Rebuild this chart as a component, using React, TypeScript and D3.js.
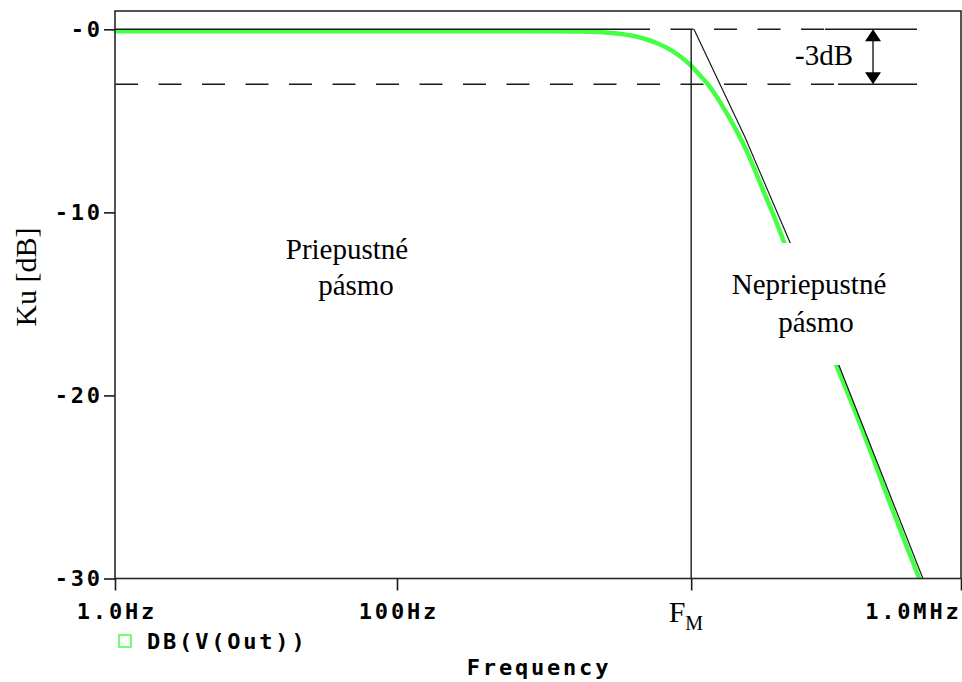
import React, { useEffect, useRef } from "react";
import * as d3 from "d3";

// gain curve of the filter
const freqHz = [1, 10, 100, 1000, 2000, 3000, 4000, 5000, 6000, 7000, 8000, 10000, 12000, 14000, 16000, 20000, 25000, 30000, 35000, 40000, 46000, 53000, 60000, 80000, 100000, 130000, 200000, 300000, 400000, 500000, 540000];
const gainDb = [-0.1, -0.1, -0.1, -0.1, -0.12, -0.17, -0.27, -0.4, -0.57, -0.76, -0.97, -1.43, -1.94, -2.49, -3.0, -4.1, -5.4, -6.6, -7.8, -8.9, -10.0, -11.2, -12.3, -14.4, -16.1, -18.3, -21.9, -25.5, -28.0, -29.9, -30.6];

// hand drawn asymptote (thin black line)
const asymFreq = [12770, 29400, 61300, 138700, 537000];
const asymDb = [0, -5.9, -11.65, -18.5, -30];

// axis ticks
const FM = 12200;
const xTickValues = [1, 100, FM, 1e6];
const xTickLabels = ["1.0Hz", "100Hz", "F", "1.0MHz"];
const yTickValues = [0, -10, -20, -30];
const yTickLabels = ["-0", "-10", "-20", "-30"];

const WIDTH = 962;
const HEIGHT = 682;
const PLOT = { left: 115, right: 961, top: 11, bottom: 578.5 };

const MONO = "'DejaVu Sans Mono', monospace";
const MONO_SIZE = 22;
const MONO_SPACING = 2.8;
const SERIF = "'Liberation Serif', 'Times New Roman', serif";
const GREEN = "#45ff45";
const INK = "#1a1a1a";

function monoText(sel: d3.Selection<any, any, any, any>) {
  return sel
    .attr("font-family", MONO)
    .attr("font-weight", "bold")
    .attr("font-size", MONO_SIZE)
    .attr("letter-spacing", MONO_SPACING)
    .attr("fill", "black");
}

function drawChart(node: SVGSVGElement) {
  const svg = d3.select(node);
  svg.selectAll("*").remove();

  const x = d3.scaleLog().domain([1, 1e6]).range([PLOT.left, PLOT.right]);
  const y = d3.scaleLinear().domain([-30, 1]).range([PLOT.bottom, PLOT.top]);

  svg.append("rect").attr("width", WIDTH).attr("height", HEIGHT).attr("fill", "white");

  svg.append("defs").append("clipPath").attr("id", "plot-clip")
    .append("rect")
    .attr("x", PLOT.left).attr("y", PLOT.top)
    .attr("width", PLOT.right - PLOT.left).attr("height", PLOT.bottom - PLOT.top);

  // 0 dB and -3 dB guide lines
  const guides = svg.append("g").attr("stroke", INK).attr("stroke-width", 1.4).attr("fill", "none");
  const hline = (f0: number, f1: number, db: number, dashed: boolean) => {
    guides.append("line")
      .attr("x1", x(f0)).attr("x2", x(f1))
      .attr("y1", y(db)).attr("y2", y(db))
      .attr("stroke-dasharray", dashed ? "23 20.5" : null);
  };
  hline(4280, 108400, 0, true);
  hline(108400, 487500, 0, false);
  hline(1, 134200, -3, true);
  hline(134200, 487500, -3, false);

  // vertical line at FM
  guides.append("line")
    .attr("x1", x(FM)).attr("x2", x(FM))
    .attr("y1", y(0)).attr("y2", PLOT.bottom);

  const plot = svg.append("g").attr("clip-path", "url(#plot-clip)");

  const curve = d3.line<number>()
    .x((d, i) => x(freqHz[i]))
    .y((d) => y(d))
    .curve(d3.curveMonotoneX);

  plot.append("path")
    .datum(gainDb)
    .attr("d", curve)
    .attr("fill", "none")
    .attr("stroke", GREEN)
    .attr("stroke-width", 4.5);

  const asym = d3.line<number>()
    .x((d, i) => x(asymFreq[i]))
    .y((d) => y(d));

  plot.append("path")
    .datum(asymDb)
    .attr("d", asym)
    .attr("fill", "none")
    .attr("stroke", INK)
    .attr("stroke-width", 1.2);

  // solid part of the 0 dB line, drawn over the curve
  guides.raise();
  guides.append("line")
    .attr("x1", x(1)).attr("x2", x(4280))
    .attr("y1", y(0)).attr("y2", y(0));

  // white box under the stop band label
  svg.append("rect")
    .attr("x", 722).attr("y", 243)
    .attr("width", 180).attr("height", 122)
    .attr("fill", "white");

  const label = (tx: number, ty: number, text: string, size = 29) =>
    svg.append("text")
      .attr("x", tx).attr("y", ty)
      .attr("text-anchor", "middle")
      .attr("font-family", SERIF)
      .attr("font-size", size)
      .attr("fill", "black")
      .text(text);

  label(347, 259, "Priepustné");
  label(356, 295, "pásmo");
  label(809, 294, "Nepriepustné");
  label(816, 332, "pásmo");
  label(824, 65, "-3dB");

  // -3 dB double arrow
  const ax = x(237700);
  svg.append("line")
    .attr("x1", ax).attr("x2", ax)
    .attr("y1", y(0) + 6).attr("y2", y(-3) - 6)
    .attr("stroke", INK).attr("stroke-width", 1.4);
  svg.append("path")
    .attr("d", `M${ax},${y(0)}L${ax - 8},${y(0) + 12}L${ax + 8},${y(0) + 12}Z`)
    .attr("fill", "black");
  svg.append("path")
    .attr("d", `M${ax},${y(-3)}L${ax - 8},${y(-3) - 12}L${ax + 8},${y(-3) - 12}Z`)
    .attr("fill", "black");

  // plot frame
  svg.append("rect")
    .attr("x", PLOT.left).attr("y", PLOT.top)
    .attr("width", PLOT.right - PLOT.left).attr("height", PLOT.bottom - PLOT.top)
    .attr("fill", "none")
    .attr("stroke", "#2a2a2a")
    .attr("stroke-width", 1.6);

  // axes
  const xAxis = svg.append("g")
    .attr("transform", `translate(0,${PLOT.bottom})`)
    .call(
      d3.axisBottom(x)
        .tickValues(xTickValues)
        .tickFormat((d, i) => xTickLabels[i])
        .tickSize(12)
        .tickSizeOuter(0)
    );
  xAxis.select(".domain").remove();
  xAxis.selectAll(".tick line").attr("stroke", INK).attr("stroke-width", 1.6);
  monoText(xAxis.selectAll<SVGTextElement, number>(".tick text"))
    .attr("y", 40)
    .attr("dy", 0)
    .attr("dx", (d, i) => (i === 3 ? 0 : MONO_SPACING / 2))
    .attr("text-anchor", (d, i) => (i === 3 ? "end" : "middle"))
    .each(function (d, i) {
      if (i !== 2) return;
      const t = d3.select(this);
      t.text(null)
        .attr("font-family", SERIF)
        .attr("font-weight", "normal")
        .attr("letter-spacing", 0)
        .attr("text-anchor", "start")
        .attr("dx", -23)
        .attr("y", 43.5);
      t.append("tspan").attr("font-size", 30).text(xTickLabels[2]);
      t.append("tspan").attr("font-size", 20).attr("dy", 8).text("M");
    });

  const yAxis = svg.append("g")
    .attr("transform", `translate(${PLOT.left},0)`)
    .call(
      d3.axisLeft(y)
        .tickValues(yTickValues)
        .tickFormat((d, i) => yTickLabels[i])
        .tickSize(11)
        .tickPadding(4)
        .tickSizeOuter(0)
    );
  yAxis.select(".domain").remove();
  yAxis.selectAll(".tick line").attr("stroke", INK).attr("stroke-width", 1.6);
  monoText(yAxis.selectAll(".tick text")).attr("dx", MONO_SPACING);

  // axis titles
  svg.append("text")
    .attr("transform", "translate(36,277) rotate(-90)")
    .attr("text-anchor", "middle")
    .attr("font-family", SERIF)
    .attr("font-size", 30)
    .text("Ku [dB]");

  monoText(svg.append("text"))
    .attr("x", 539).attr("y", 675)
    .attr("text-anchor", "middle")
    .text("Frequency");

  // legend
  svg.append("rect")
    .attr("x", 119).attr("y", 635)
    .attr("width", 12).attr("height", 12)
    .attr("fill", "none")
    .attr("stroke", GREEN)
    .attr("stroke-width", 1.5);
  monoText(svg.append("text"))
    .attr("x", 147).attr("y", 649)
    .text("DB(V(Out))");
}

export default function App() {
  const svgRef = useRef<SVGSVGElement>(null);

  useEffect(() => {
    if (svgRef.current) drawChart(svgRef.current);
  }, []);

  return (
    <svg
      ref={svgRef}
      width={WIDTH}
      height={HEIGHT}
      style={{ position: "absolute", left: 0, top: 0, display: "block" }}
    />
  );
}
